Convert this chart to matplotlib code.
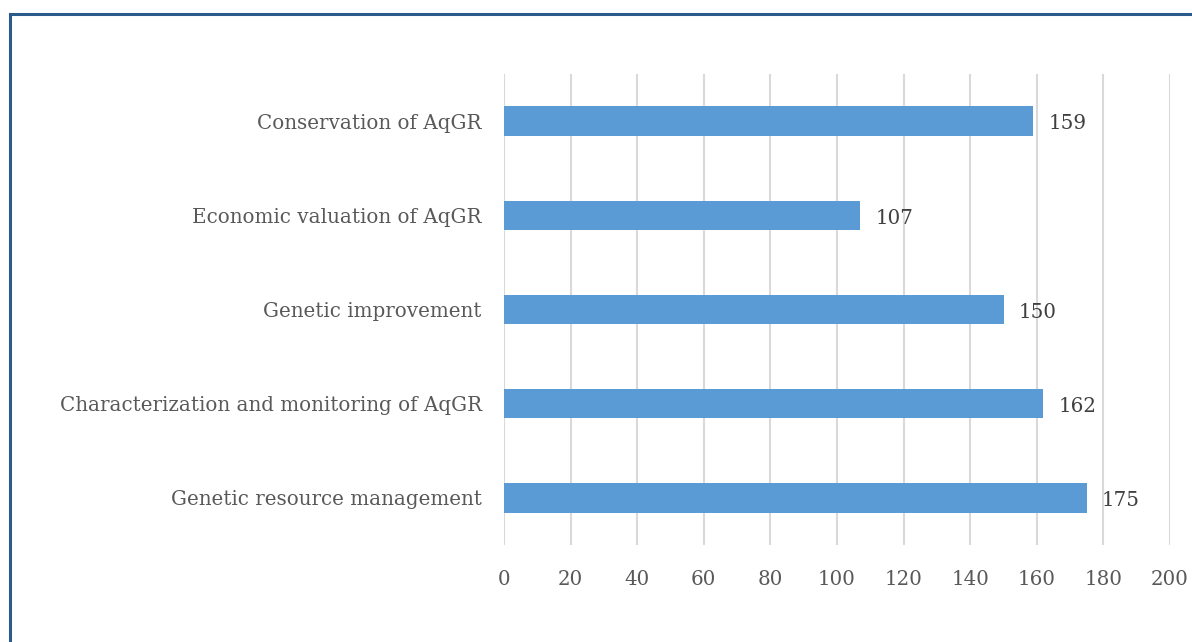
import matplotlib
matplotlib.use("Agg")
import matplotlib.pyplot as plt
from matplotlib.patches import Rectangle

categories = ["Genetic resource management",
              "Characterization and monitoring of AqGR",
              "Genetic improvement",
              "Economic valuation of AqGR",
              "Conservation of AqGR"]
values = [175, 162, 150, 107, 159]
xticks = [0, 20, 40, 60, 80, 100, 120, 140, 160, 180, 200]

bar_color = "#5B9BD5"
text_color = "#595959"
grid_color = "#D9D9D9"

plt.rcParams["font.family"] = ["DejaVu Serif"]

fig = plt.figure(figsize=(11.92, 6.42), dpi=100)
ax = fig.add_axes([504 / 1192, 1 - 545 / 642, 666 / 1192, 471 / 642])

y = range(len(categories))
bars = ax.barh(y, values, height=0.31, color=bar_color, zorder=3)
for b, v in zip(bars, values):
    ax.text(v + 4.5, b.get_y() + b.get_height() / 2 - 0.03, str(v),
            va="center", ha="left", fontsize=14.3, color="#404040")

ax.set_xlim(0, 200)
ax.set_ylim(-0.5, len(categories) - 0.5)
ax.set_xticks(xticks)
ax.set_yticks(list(y))
ax.set_yticklabels(categories)
ax.tick_params(axis="both", length=0, colors=text_color, labelsize=14.3)
ax.tick_params(axis="x", pad=18)
ax.tick_params(axis="y", pad=16)
ax.grid(axis="x", color=grid_color, linewidth=1.5, zorder=0)
for s in ax.spines.values():
    s.set_visible(False)

# outer frame: only left and top edges fall inside the image
fig.patches.append(Rectangle((10 / 1192, -0.1), 1.2, (1 - 14 / 642) + 0.1,
                             transform=fig.transFigure, fill=False,
                             edgecolor="#2B5A8C", linewidth=2.2))

fig.savefig("out.png", dpi=100)
